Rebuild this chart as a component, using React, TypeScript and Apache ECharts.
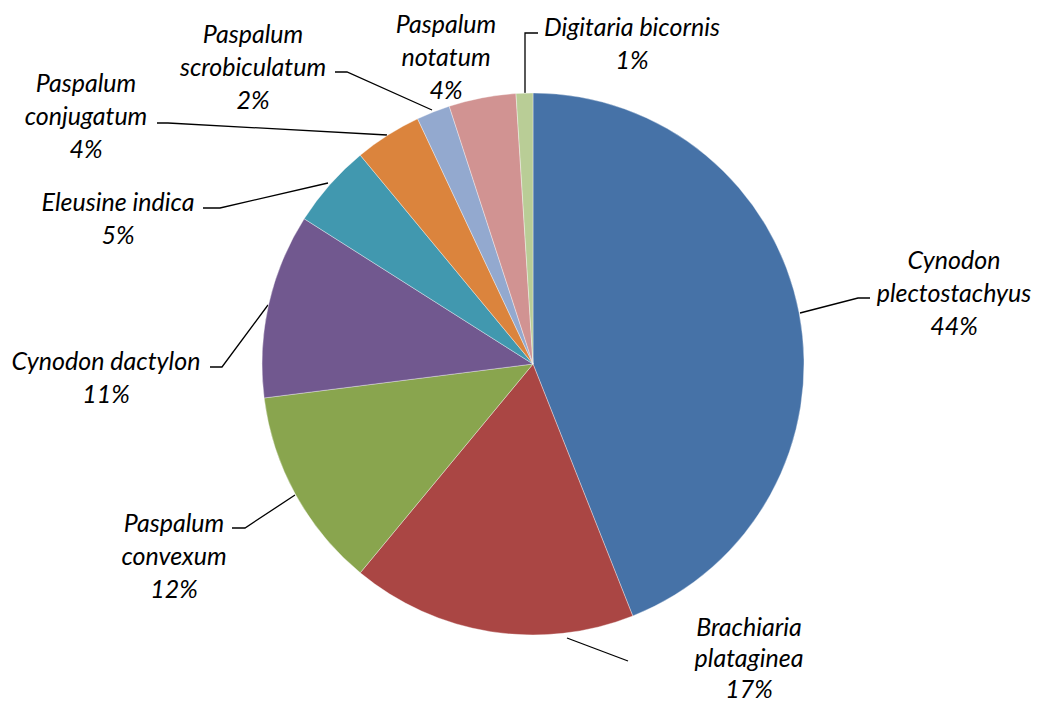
import React, { useEffect, useRef } from "react";
import * as echarts from "echarts";

// Species names (line breaks as set in the labels) and their share of the cover, in %
const species = [
  "Cynodon\nplectostachyus",
  "Brachiaria\nplataginea",
  "Paspalum\nconvexum",
  "Cynodon dactylon",
  "Eleusine indica",
  "Paspalum\nconjugatum",
  "Paspalum\nscrobiculatum",
  "Paspalum\nnotatum",
  "Digitaria bicornis",
];
const shares = [44, 17, 12, 11, 5, 4, 2, 4, 1];

const sliceColors = [
  "#4672A7",
  "#AA4644",
  "#89A54E",
  "#71588F",
  "#4198AF",
  "#DB843D",
  "#93A9CF",
  "#D19392",
  "#B9CD96",
];

// Centre of each label block
const labelCenters: number[][] = [
  [954, 292],
  [749, 657],
  [174, 555],
  [106, 376],
  [118, 217],
  [86, 115],
  [253, 66],
  [446, 56],
  [632, 42],
];

// Line spacing per label (the bottom label is set a little tighter to stay on the page)
const labelLineHeights = [33, 31, 33, 33, 33, 33, 33, 33, 33];

// Leader lines from the slice to its label (null = no line)
const leaderLines: (number[][] | null)[] = [
  [[800, 313], [858, 298], [870, 298]],
  [[567, 638], [628, 661]],
  [[295, 495], [245, 528], [232, 528]],
  [[268, 305], [222, 367], [210, 367]],
  [[328, 183], [220, 208], [203, 208]],
  [[387, 135], [168, 123], [157, 123]],
  [[432, 110], [347, 72], [335, 72]],
  null,
  [[525, 93], [525, 33], [538, 33]],
];

export default function App() {
  const ref = useRef<HTMLDivElement>(null);

  useEffect(() => {
    if (!ref.current) return;
    const chart = echarts.init(ref.current, undefined, { renderer: "svg" });

    const data = species.map((name, i) => ({
      name,
      value: shares[i],
      itemStyle: { color: sliceColors[i] },
      label: { lineHeight: labelLineHeights[i] },
      labelLine: { show: leaderLines[i] != null },
    }));

    chart.setOption({
      animation: false,
      backgroundColor: "#ffffff",
      series: [
        {
          type: "pie",
          center: [533, 364],
          radius: 271,
          startAngle: 90,
          clockwise: true,
          avoidLabelOverlap: false,
          emphasis: { disabled: true },
          itemStyle: { borderColor: "rgba(255,255,255,0.6)", borderWidth: 0.6 },
          label: {
            show: true,
            position: "outside",
            formatter: (p: any) => `${p.name}\n${Math.round(p.percent)}%`,
            color: "#000000",
            fontFamily: "Lato, 'Open Sans', sans-serif",
            fontStyle: "italic",
            fontSize: 25,
            lineHeight: 33,
          },
          labelLine: {
            show: true,
            lineStyle: { color: "#000000", width: 1.3 },
          },
          labelLayout: (p: any) => {
            const i = p.dataIndex;
            const [x, y] = labelCenters[i];
            const out: any = { x, y, align: "center", verticalAlign: "middle" };
            const pts = leaderLines[i];
            if (pts) out.labelLinePoints = pts;
            return out;
          },
          data,
        },
      ],
    });

    return () => chart.dispose();
  }, []);

  return (
    <div
      ref={ref}
      style={{ position: "absolute", left: 0, top: 0, width: 1038, height: 704 }}
    />
  );
}
